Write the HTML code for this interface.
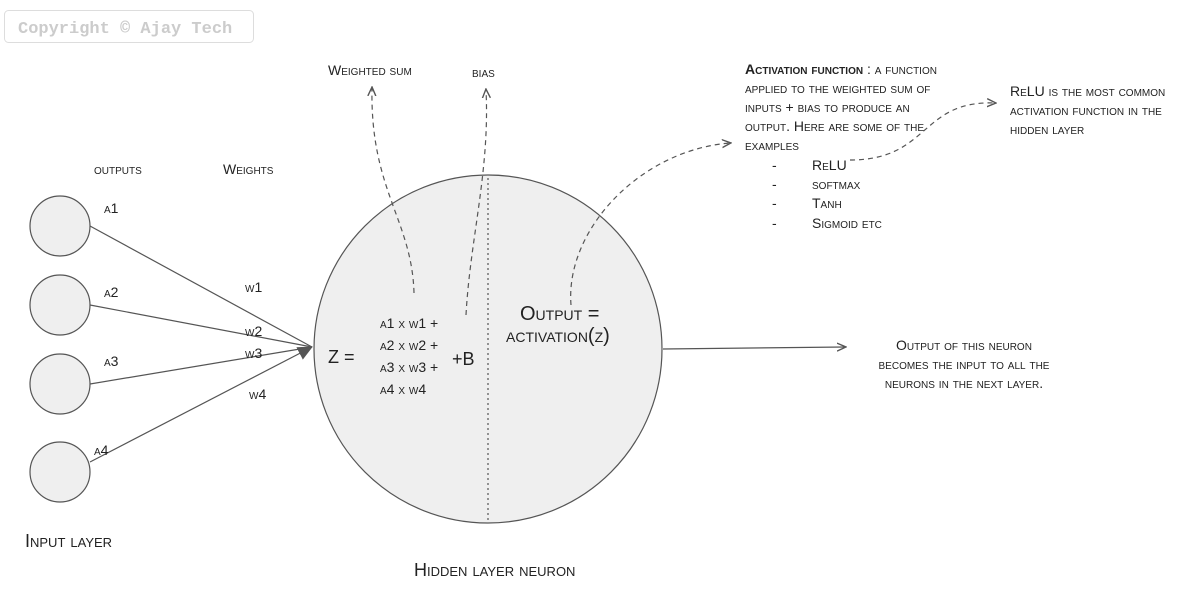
<!DOCTYPE html>
<html><head><meta charset="utf-8"><style>
body{margin:0;background:#fff;}
svg text{font-family:"Liberation Sans",sans-serif;font-variant:small-caps;fill:#222;}
</style></head><body>
<svg width="1182" height="603" viewBox="0 0 1182 603" xmlns="http://www.w3.org/2000/svg">
<defs>
<marker id="ah" markerWidth="10" markerHeight="10" refX="8" refY="5" orient="auto" markerUnits="userSpaceOnUse">
<path d="M0,1 L9,5 L0,9" fill="none" stroke="#555" stroke-width="1.4"/></marker>
<marker id="af" markerWidth="16" markerHeight="16" refX="14" refY="8" orient="auto" markerUnits="userSpaceOnUse">
<path d="M0,1 L15,8 L0,15 Z" fill="#555"/></marker>
</defs>
<rect x="4.5" y="10.5" width="249" height="32" rx="4" fill="#fff" stroke="#ddd"/>
<text x="18" y="33" style="font-family:'Liberation Mono',monospace;font-variant:normal;font-size:17px;fill:#ccc;font-weight:bold">Copyright © Ajay Tech</text>

<g fill="#efefef" stroke="#555" stroke-width="1.2">
<circle cx="60" cy="226" r="30"/><circle cx="60" cy="305" r="30"/>
<circle cx="60" cy="384" r="30"/><circle cx="60" cy="472" r="30"/>
<circle cx="488" cy="349" r="174"/>
</g>
<g stroke="#555" stroke-width="1.2" fill="none">
<line x1="90" y1="226" x2="312" y2="347"/>
<line x1="90" y1="305" x2="312" y2="347"/>
<line x1="90" y1="384" x2="312" y2="347"/>
<line x1="90" y1="462" x2="312" y2="347" marker-end="url(#af)"/>
<line x1="488" y1="178" x2="488" y2="521" stroke-dasharray="2,3"/>
<line x1="663" y1="349" x2="845" y2="347" marker-end="url(#ah)"/>
<g stroke-dasharray="5,4">
<path d="M414,293 C412,220 370,190 372,88" marker-end="url(#ah)"/>
<path d="M466,315 C470,240 490,170 486,90" marker-end="url(#ah)"/>
<path d="M571,305 C565,230 640,150 730,143" marker-end="url(#ah)"/>
<path d="M850,160 C930,160 920,100 995,103" marker-end="url(#ah)"/>
</g></g>

<g font-size="14">
<text x="94" y="174">outputs</text><text x="223" y="174">Weights</text>
<text x="104" y="213">a1</text><text x="104" y="297">a2</text>
<text x="104" y="366">a3</text><text x="94" y="455">a4</text>
<text x="245" y="292">w1</text><text x="245" y="336">w2</text>
<text x="245" y="358">w3</text><text x="249" y="399">w4</text>
<text x="328" y="75">Weighted sum</text><text x="472" y="77">bias</text>
<text x="380" y="328">a1 x w1 +</text><text x="380" y="350">a2 x w2 +</text>
<text x="380" y="372">a3 x w3 +</text><text x="380" y="394">a4 x w4</text>
<text x="964" y="350" text-anchor="middle">Output of this neuron</text>
<text x="964" y="369" text-anchor="middle">becomes the input to all the</text>
<text x="964" y="388" text-anchor="middle">neurons in the next layer.</text>
<text x="745" y="74"><tspan font-weight="bold">Activation function</tspan> : a function</text>
<text x="745" y="93">applied to the weighted sum of</text>
<text x="745" y="112">inputs + bias to produce an</text>
<text x="745" y="131">output. Here are some of the</text>
<text x="745" y="150">examples</text>
<text x="772" y="170">-</text><text x="812" y="170">ReLU</text>
<text x="772" y="189">-</text><text x="812" y="189">softmax</text>
<text x="772" y="208">-</text><text x="812" y="208">Tanh</text>
<text x="772" y="228">-</text><text x="812" y="228">Sigmoid etc</text>
<text x="1010" y="96">ReLU is the most common</text>
<text x="1010" y="115">activation function in the</text>
<text x="1010" y="134">hidden layer</text>
</g>
<g font-size="18">
<text x="328" y="363">Z =</text><text x="452" y="365">+B</text>
<text x="25" y="547">Input layer</text>
<text x="414" y="576">Hidden layer neuron</text>
</g>
<g font-size="20">
<text x="520" y="320">Output =</text><text x="506" y="342">activation(z)</text>
</g>
</svg>
</body></html>
